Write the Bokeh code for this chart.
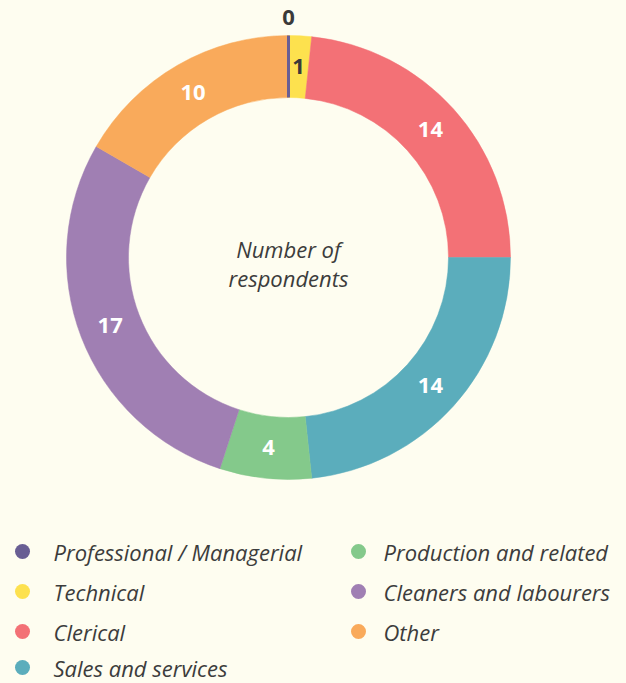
import numpy as np
from bokeh.plotting import figure
from bokeh.models import Range1d, ColumnDataSource
from bokeh.core.properties import value
from bokeh.embed import file_html
from bokeh.resources import INLINE

categories = ["Professional / Managerial", "Technical", "Clerical", "Sales and services",
              "Production and related", "Cleaners and labourers", "Other"]
counts = [0, 1, 14, 14, 4, 17, 10]
colors = ["#695E93", "#FDE14E", "#F37176", "#5BADBC", "#84C98B", "#A07FB3", "#F9AA5B"]
label_colors = ["#3A3A3A", "#3A3A3A", "white", "white", "white", "white", "white"]
center_title = ["Number of", "respondents"]

BG = "#FEFDF0"
TXT = "#3C3C3C"
FONT = "Open Sans"
W, H = 626, 683

def px(x):
    return x

def py(y):
    return H - y

p = figure(width=W, height=H, x_range=Range1d(0, W), y_range=Range1d(0, H),
           output_backend="svg", toolbar_location=None, min_border=0,
           background_fill_color=BG, border_fill_color=BG, outline_line_color=None)
p.axis.visible = False
p.grid.visible = False

cx, cy = px(288), py(257)
r_out, r_in = 222, 160
r_lab = 191

total = sum(counts)
cum = np.concatenate([[0], np.cumsum(counts)])
theta_s = cum[:-1] / total * 2 * np.pi
theta_e = cum[1:] / total * 2 * np.pi
theta_m = (theta_s + theta_e) / 2

nz = [i for i, c in enumerate(counts) if c > 0]
src = ColumnDataSource(dict(
    start=[np.pi / 2 - theta_s[i] for i in nz],
    end=[np.pi / 2 - theta_e[i] for i in nz],
    color=[colors[i] for i in nz],
))
p.annular_wedge(x=cx, y=cy, inner_radius=r_in, outer_radius=r_out,
                start_angle="start", end_angle="end", direction="clock",
                fill_color="color", line_color="color", line_width=0.5, source=src)

# zero-valued slices drawn as a thin line
for i, c in enumerate(counts):
    if c == 0:
        t = theta_s[i]
        p.segment(x0=cx + r_in * np.sin(t), y0=cy + r_in * np.cos(t),
                  x1=cx + r_out * np.sin(t), y1=cy + r_out * np.cos(t),
                  line_color=colors[i], line_width=3)

# value labels
lx, ly, lt, lc = [], [], [], []
for i, c in enumerate(counts):
    r = r_lab if c > 0 else r_out + 18
    lx.append(cx + r * np.sin(theta_m[i]))
    ly.append(cy + r * np.cos(theta_m[i]))
    lt.append(str(c))
    lc.append(label_colors[i])
p.text(x=lx, y=ly, text=lt, text_color=lc, text_font=value(FONT),
       text_font_style="bold", text_font_size="22px",
       text_align="center", text_baseline="middle")

# centre title
p.text(x=[cx, cx], y=[py(248), py(277)], text=center_title, text_color=TXT,
       text_font=value(FONT), text_font_style="italic", text_font_size="22px",
       text_align="center", text_baseline="middle")

# legend
leg_x_dot = [22, 22, 22, 22, 358, 358, 358]
leg_x_txt = [53, 53, 53, 53, 383, 383, 383]
leg_y = [551, 591, 631, 667, 551, 591, 631]
p.scatter(x=[px(v) for v in leg_x_dot], y=[py(v) for v in leg_y], size=15,
          fill_color=colors, line_color=None)
p.text(x=[px(v) for v in leg_x_txt], y=[py(v) for v in leg_y], text=categories,
       text_color=TXT, text_font=value(FONT), text_font_style="italic",
       text_font_size="22px", text_align="left", text_baseline="middle")

html = file_html(p, INLINE)
html = html.replace("<body>", "<body style=\"margin:0;background-color:%s;overflow:hidden;\">" % BG)
open("out.html", "w").write(html)
